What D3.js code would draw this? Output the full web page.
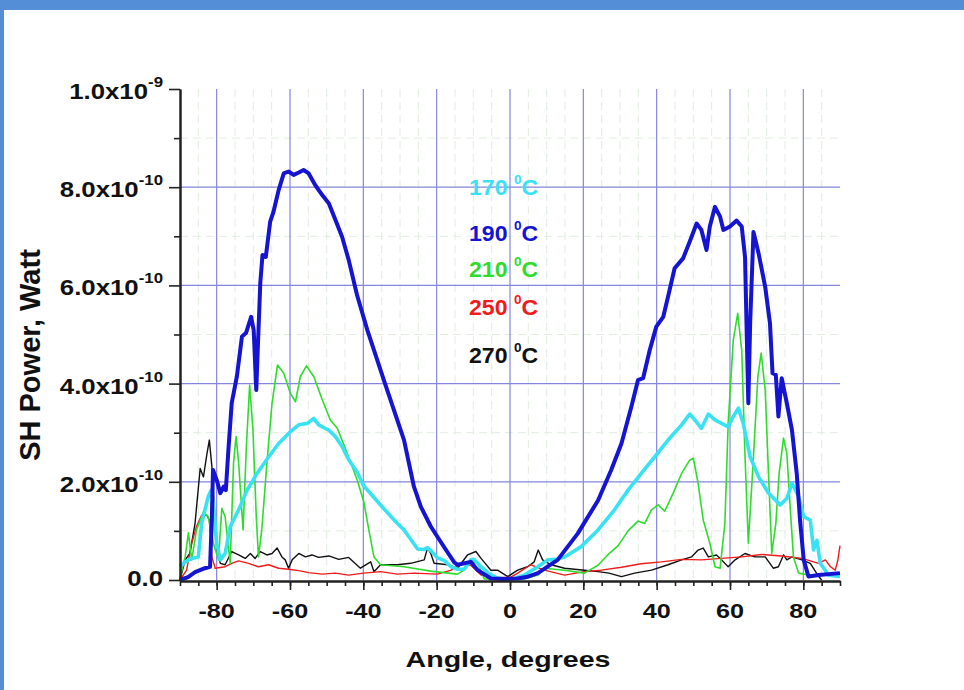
<!DOCTYPE html>
<meta charset="utf-8">
<script src="https://d3js.org/d3.v7.min.js"></script>
<style>
  body { margin: 0; background: #fff; }
  text { font-family: "Liberation Sans", Arial, sans-serif; font-weight: bold; }
</style>
<body>
<svg id="chart" width="964" height="690"></svg>
<script>
// SH power vs angle, values in units of 1e-10 W, [angle (deg), power]
var cyan170 = [[-90,0.27],[-88.6,0.37],[-86.8,0.44],[-85,0.47],[-84.1,1.15],[-82.3,1.7],[-81.5,1.83],[-80.9,1.56],[-80,0.75],[-79,0.41],[-77.7,0.54],[-76.3,1.09],[-74,1.43],[-71.7,1.83],[-69,2.17],[-65.8,2.51],[-63.1,2.78],[-59.9,3.02],[-57.6,3.16],[-55.3,3.19],[-53.5,3.29],[-52.2,3.16],[-49.4,3.05],[-47.6,2.92],[-45.8,2.72],[-44,2.45],[-41.7,2.2],[-39.9,1.92],[-34.4,1.45],[-30.7,1.15],[-28.9,1.02],[-25.2,0.63],[-23.5,0.62],[-22.5,0.66],[-21.6,0.6],[-19.8,0.45],[-18,0.4],[-16.1,0.27],[-14.3,0.22],[-12.5,0.22],[-10.7,0.41],[-9.8,0.42],[-7.9,0.27],[-5.5,0.12],[-3.4,0.04],[0.3,0.01],[3.9,0.1],[7.6,0.27],[10.3,0.41],[12.5,0.42],[14.9,0.47],[19.4,0.68],[24,1.02],[28.5,1.43],[32.2,1.83],[35.8,2.17],[39.5,2.51],[43.1,2.85],[46.8,3.16],[49,3.38],[50.4,3.26],[52.2,3.09],[54.1,3.38],[55.9,3.26],[57.7,3.19],[59.5,3.12],[60.9,3.33],[62.3,3.5],[63.6,3.19],[65.5,2.51],[67.8,2.1],[70.5,1.77],[73.7,1.53],[75.5,1.66],[76.9,1.97],[78.7,1.7],[80.1,1.29],[81.9,1.22],[82.8,0.61],[83.7,0.81],[84.6,0.34],[86.9,0.1],[90,0.07]];

var blue190 = [[-90,0],[-87.8,0.06],[-85.9,0.16],[-83.2,0.24],[-81.8,0.27],[-81.3,1.29],[-81,2.24],[-80,2.04],[-79,1.77],[-78.1,1.9],[-77.5,1.83],[-76.8,2.65],[-75.9,3.6],[-74.5,4.14],[-73.1,4.96],[-72,5.03],[-70.6,5.36],[-69.9,5.09],[-69.2,3.87],[-68.8,4.68],[-68.1,6.05],[-67.5,6.62],[-66.6,6.58],[-65.4,7.3],[-64.5,7.5],[-63.1,7.94],[-61.7,8.28],[-60.4,8.32],[-59,8.25],[-57.6,8.3],[-56.3,8.35],[-54.9,8.28],[-53.1,8.04],[-51.2,7.84],[-49.4,7.67],[-47.6,7.33],[-45.8,6.99],[-44,6.52],[-41.7,5.8],[-38.9,5.09],[-34.4,4.07],[-28.9,2.85],[-26.2,1.9],[-24.3,1.49],[-21.6,1.09],[-19.8,0.88],[-17,0.56],[-15.2,0.36],[-14.3,0.31],[-10.7,0.37],[-8.8,0.2],[-5.2,0.03],[-2,0.02],[2,0.03],[4.5,0.06],[7.6,0.14],[13,0.41],[18.5,0.95],[24,1.62],[27.6,2.24],[30.4,2.78],[33.1,3.53],[34.9,4.07],[36.3,4.11],[38.1,4.68],[39.9,5.16],[41.8,5.36],[43.1,5.77],[44.9,6.35],[47.2,6.55],[49,6.89],[50.9,7.26],[52.2,7.13],[53.6,6.72],[54.5,7.2],[55.9,7.6],[57.3,7.4],[58.2,7.13],[60,7.2],[61.8,7.32],[63.2,7.2],[64.1,6.58],[64.6,4.89],[65,3.6],[65.5,5.23],[66.4,7.09],[67.8,6.65],[69.6,5.97],[70.9,5.23],[71.6,4.21],[72.5,4.18],[73.2,3.33],[74.1,4.11],[75.5,3.6],[76.9,3.05],[78.2,2.17],[79.1,1.22],[80.1,0.41],[81.4,0.07],[84.2,0.1],[90,0.14]];

var green210 = [[-90,0.04],[-88.6,0.47],[-87.7,0.96],[-86.8,0.41],[-85.5,1.02],[-83.6,1.39],[-82.3,1.29],[-80.9,0.75],[-79.5,0.41],[-78.6,1.46],[-77.7,1.29],[-76.3,0.34],[-75.4,2.38],[-74.7,2.92],[-74,2.38],[-72.8,1.02],[-71.9,2.72],[-71,3.97],[-70.1,3.05],[-69.2,1.29],[-68.6,0.47],[-67.7,1.02],[-66.3,2.38],[-64.9,3.6],[-63.4,4.38],[-61.7,4.21],[-59.9,3.8],[-58.5,3.63],[-57.2,4.14],[-55.5,4.36],[-53.5,4.14],[-51.2,3.67],[-49,3.26],[-47.1,3.09],[-44.4,2.58],[-41.7,2.04],[-39.9,1.6],[-38.5,1.02],[-37.1,0.47],[-35.3,0.31],[-28.9,0.27],[-21.6,0.18],[-14.3,0.12],[-12.5,0.2],[-10.7,0.37],[-8.8,0.34],[-7,0.02],[3.9,0.02],[7.6,0.1],[9.4,0.24],[14.9,0.2],[20.3,0.14],[24,0.3],[26.5,0.5],[29.5,0.7],[32.2,1],[34.9,1.2],[36.7,1.15],[38.6,1.43],[40.4,1.53],[42.2,1.4],[44.5,1.77],[46.8,2.17],[49,2.44],[50,2.48],[51.3,1.97],[52.7,1.22],[54.5,0.75],[55.9,0.27],[57.3,0.24],[58.6,1.15],[59.5,3.19],[60.9,4.89],[62.1,5.43],[63.2,4.68],[64.1,2.51],[65,0.75],[66.4,2.51],[67.6,4.14],[68.5,4.62],[69.6,3.87],[70.5,2.17],[71.4,0.54],[72.5,1.15],[73.4,2.17],[74.6,2.89],[75.5,2.58],[76.4,1.49],[77.3,0.47],[78.7,0.14],[81.4,0.1],[83,0.1]];

var red250 = [[-90,0],[-88.2,0.2],[-86.8,0.75],[-85.5,1.09],[-84.1,1.32],[-82.7,1.32],[-82,1.22],[-81.3,0.47],[-80.4,0.24],[-77.7,0.27],[-75.9,0.34],[-74,0.39],[-71.3,0.34],[-68.6,0.27],[-65.8,0.31],[-63.1,0.24],[-60.4,0.22],[-57.6,0.19],[-54.9,0.15],[-51.2,0.12],[-47.6,0.14],[-44,0.1],[-39.9,0.14],[-35.3,0.17],[-30.7,0.12],[-26.2,0.14],[-19.8,0.12],[-16,0.2],[-13.4,0.34],[-10.7,0.3],[-7.9,0.1],[-3.4,0.05],[0,0.05],[2.1,0.14],[5.7,0.31],[9.4,0.2],[14.9,0.1],[20.3,0.17],[24.9,0.2],[30.4,0.26],[35.8,0.33],[41.3,0.37],[46.8,0.42],[52.2,0.41],[57.7,0.44],[63.2,0.47],[68.7,0.52],[74.1,0.49],[79.6,0.44],[84.2,0.34],[86,0.41],[87.4,0.27],[88.7,0.2],[89.4,0.4],[90,0.7]];

var black270 = [[-90,0],[-88.6,0.41],[-87.3,0.54],[-85.9,1.15],[-84.5,2.27],[-83.6,2.1],[-82.7,2.55],[-82,2.85],[-81.3,2.31],[-80.6,1.43],[-80,0.61],[-79,0.34],[-77.7,0.31],[-75.9,0.58],[-74,0.51],[-72.2,0.44],[-70.8,0.54],[-69.5,0.44],[-68.1,0.58],[-66.3,0.51],[-64.9,0.54],[-63.5,0.65],[-62.2,0.47],[-61.3,0.41],[-60.4,0.24],[-59.4,0.41],[-57.6,0.54],[-55.8,0.47],[-54,0.51],[-52.2,0.46],[-49.4,0.49],[-46.7,0.42],[-44,0.46],[-40.8,0.24],[-38,0.37],[-37.1,0.17],[-35.3,0.31],[-30.7,0.31],[-27.1,0.34],[-23.4,0.41],[-22.5,0.65],[-21.6,0.54],[-20.7,0.34],[-17,0.31],[-14.3,0.24],[-11.6,0.51],[-9.3,0.58],[-7.9,0.44],[-5.2,0.2],[-3.4,0.2],[-0.6,0.07],[2.1,0.2],[4.8,0.27],[6.6,0.37],[7.7,0.61],[8.9,0.41],[11.2,0.31],[14.9,0.24],[20.3,0.2],[24,0.17],[27,0.14],[30.4,0.07],[34,0.14],[38.6,0.2],[43.1,0.31],[46.8,0.41],[49.5,0.47],[51.3,0.61],[52.7,0.65],[54.1,0.47],[56.3,0.51],[57.7,0.41],[59.5,0.27],[61.4,0.41],[64.1,0.54],[66.8,0.47],[69.6,0.47],[71.8,0.24],[73.2,0.27],[74.6,0.51],[75.5,0.41],[76.9,0.47],[79.6,0.41],[81.9,0.34],[84.2,0.07],[85,0]];

var legendLabels = ["170", "190", "210", "250", "270"];
var xTicks = [-80, -60, -40, -20, 0, 20, 40, 60, 80];
var yTicks = [0, 2, 4, 6, 8, 10];
var yTickMant = ["0.0", "2.0x10", "4.0x10", "6.0x10", "8.0x10", "1.0x10"];
var yTickExp = ["", "-10", "-10", "-10", "-10", "-9"];

var svg = d3.select("#chart");

// frame strips
svg.append("rect").attr("x", 0).attr("y", 0).attr("width", 964).attr("height", 10).attr("fill", "#548ed6");
svg.append("rect").attr("x", 0).attr("y", 0).attr("width", 4).attr("height", 690).attr("fill", "#548ed6");

var plotL = 180, plotR = 840, plotT = 89, plotB = 580;
var x = d3.scaleLinear().domain([-90, 90]).range([plotL, plotR]);
var y = d3.scaleLinear().domain([0, 10]).range([plotB, plotT]);

// minor grid (dashed, very light)
var g = svg.append("g");
g.selectAll(".vmin").data(d3.range(-85, 90, 5).filter(d => d % 20 != 0)).enter()
  .append("line")
  .attr("x1", d => x(d)).attr("x2", d => x(d)).attr("y1", plotT).attr("y2", plotB)
  .attr("stroke", "#e2ede0").attr("stroke-dasharray", "8,5");
g.selectAll(".hmin").data([1, 3, 5, 7, 9]).enter()
  .append("line")
  .attr("x1", plotL).attr("x2", plotR).attr("y1", d => y(d)).attr("y2", d => y(d))
  .attr("stroke", "#e2ede0").attr("stroke-dasharray", "8,5");
// major grid
g.selectAll(".vmaj").data(xTicks).enter()
  .append("line")
  .attr("x1", d => x(d)).attr("x2", d => x(d)).attr("y1", plotT).attr("y2", plotB)
  .attr("stroke", "#8585e0").attr("stroke-width", 1.2);
g.selectAll(".hmaj").data([2, 4, 6, 8]).enter()
  .append("line")
  .attr("x1", plotL).attr("x2", plotR).attr("y1", d => y(d)).attr("y2", d => y(d))
  .attr("stroke", "#8585e0").attr("stroke-width", 1.2);

// curves
var line = d3.line().x(d => x(d[0])).y(d => y(d[1]));
var series = [
  {data: black270, color: "#111111", w: 1.4},
  {data: red250, color: "#ee1c1c", w: 1.4},
  {data: green210, color: "#2edc2e", w: 1.6},
  {data: cyan170, color: "#38e2f2", w: 3.6},
  {data: blue190, color: "#1414d2", w: 4}
];
series.forEach(function(s) {
  svg.append("path").datum(s.data)
    .attr("fill", "none").attr("stroke", s.color).attr("stroke-width", s.w)
    .attr("stroke-linejoin", "round").attr("d", line);
});

// axes
var xAxisMinor = d3.axisBottom(x).tickValues(d3.range(-90, 91, 5)).tickSize(5).tickFormat("");
var xAxisMajor = d3.axisBottom(x).tickValues(xTicks).tickSize(9).tickFormat("");
var yAxisMinor = d3.axisLeft(y).tickValues([1, 3, 5, 7, 9]).tickSize(6).tickFormat("");
var yAxisMajor = d3.axisLeft(y).tickValues(yTicks).tickSize(11).tickFormat("");
[xAxisMinor, xAxisMajor].forEach(function(a) {
  svg.append("g").attr("transform", "translate(0," + (plotB + 1) + ")").call(a.tickSizeOuter(0))
    .call(s => s.selectAll("path,line").attr("stroke", "#222").attr("stroke-width", 1.6));
});
[yAxisMinor, yAxisMajor].forEach(function(a) {
  svg.append("g").attr("transform", "translate(" + plotL + ",0)").call(a.tickSizeOuter(0))
    .call(s => s.selectAll("path,line").attr("stroke", "#222").attr("stroke-width", 1.6));
});
svg.selectAll(".domain").attr("stroke-width", 2);

// x tick labels
xTicks.forEach(function(t) {
  svg.append("text")
    .attr("transform", "translate(" + x(t) + ",618) scale(1.2,1)")
    .attr("text-anchor", "middle").attr("font-size", 21).attr("fill", "#111")
    .text(t);
});

// y tick labels
yTicks.forEach(function(t, i) {
  var hasExp = yTickExp[i] != "";
  var tx = svg.append("text")
    .attr("transform", "translate(163," + (y(t) + (hasExp ? 10 : 5.5)) + ") scale(1.2,1)")
    .attr("text-anchor", "end").attr("font-size", 21.5).attr("fill", "#111");
  tx.append("tspan").text(yTickMant[i]);
  if (hasExp) tx.append("tspan").attr("dy", -12).attr("font-size", 14).text(yTickExp[i]);
});

// axis titles
svg.append("text")
  .attr("transform", "translate(508,667) scale(1.3,1)")
  .attr("text-anchor", "middle").attr("font-size", 22).attr("fill", "#111")
  .text("Angle, degrees");
svg.append("text")
  .attr("transform", "translate(40,355) rotate(-90)")
  .attr("text-anchor", "middle").attr("font-size", 29).attr("fill", "#111")
  .text("SH Power, Watt");

// legend
var legendY = [195, 241, 277, 315, 363];
var legendColor = ["#38e2f2", "#1414d2", "#2edc2e", "#ee1c1c", "#111111"];
legendLabels.forEach(function(l, i) {
  var t = svg.append("text")
    .attr("transform", "translate(469," + legendY[i] + ") scale(1.05,1)")
    .attr("font-size", 22).attr("fill", legendColor[i]);
  t.append("tspan").text(l + " ");
  t.append("tspan").attr("dy", -11).attr("font-size", 13).text("0");
  t.append("tspan").attr("dy", 11).text("C");
});
</script>
</body>
